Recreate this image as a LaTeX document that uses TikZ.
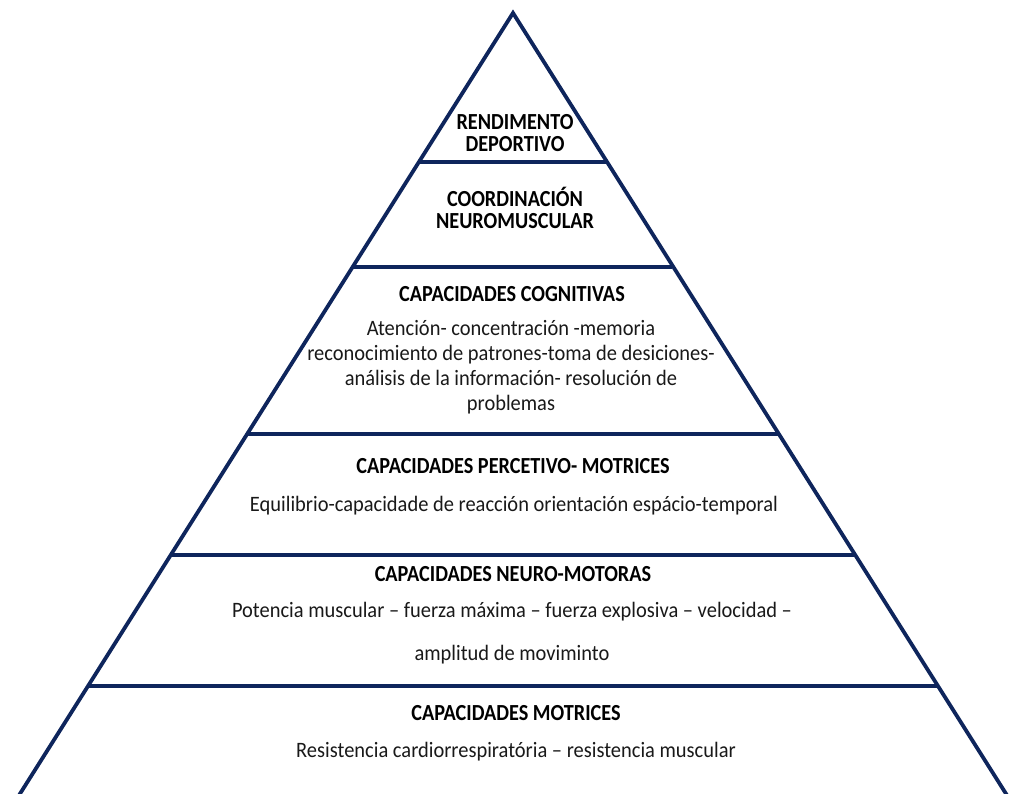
\documentclass[tikz,border=0pt]{standalone}
\usepackage{fontspec}
\setmainfont{Carlito}
\newfontfamily\headfont[FakeStretch=0.88]{Carlito}
\newfontfamily\bodyfont[FakeStretch=0.93]{Carlito}
\definecolor{navy}{RGB}{14,37,92}
\begin{document}
\begin{tikzpicture}[x=1pt,y=-1pt,
  edge/.style={draw=navy,line width=3.8pt},
  tier/.style={draw=navy,line width=3.6pt},
  title/.style={font=\headfont\bfseries\fontsize{23}{22.5}\selectfont,align=center,text=black,inner sep=0pt},
  body/.style={font=\bodyfont\fontsize{22}{25}\selectfont,align=center,text=black!90,inner sep=0pt}]
\useasboundingbox (0,0) rectangle (1010,794);
\begin{scope}
  \clip (0,0) rectangle (1010,794);
  % outer triangle
  \coordinate (apex) at (513,13);
  \coordinate (bl) at (11,808);
  \coordinate (br) at (1015,808);
  \draw[edge,line join=miter] (bl) -- (apex) -- (br);
  % tier boundaries
  \coordinate (l1) at (420,162); \coordinate (r1) at (606,162);
  \coordinate (l2) at (354,267); \coordinate (r2) at (672,267);
  \coordinate (l3) at (248,434); \coordinate (r3) at (778,434);
  \coordinate (l4) at (172,555); \coordinate (r4) at (854,555);
  \coordinate (l5) at (89,686);  \coordinate (r5) at (937,686);
  \draw[tier] (l1) -- (r1);
  \draw[tier] (l2) -- (r2);
  \draw[tier] (l3) -- (r3);
  \draw[tier] (l4) -- (r4);
  \draw[tier] (l5) -- (r5);
\end{scope}
% tier texts
\node[title] (t1) at (515,133) {RENDIMENTO\\DEPORTIVO};
\node[title] (t2) at (515,208) {COORDINACIÓN\\NEUROMUSCULAR};
\node[title] (t3) at (512,294) {CAPACIDADES COGNITIVAS};
\node[body] (b3) at (511,367) {Atención- concentración -memoria\\reconocimiento de patrones-toma de desiciones-\\análisis de la información- resolución de\\problemas};
\node[title] (t4) at (513,466) {CAPACIDADES PERCETIVO- MOTRICES};
\node[body] (b4) at (514,506) {Equilibrio-capacidade de reacción orientación espácio-temporal};
\node[title] (t5) at (513,574) {CAPACIDADES NEURO-MOTORAS};
\node[body] (b5) at (512,612) {Potencia muscular – fuerza máxima – fuerza explosiva – velocidad –};
\node[body] (b5b) at (512,655) {amplitud de movimint{o}};
\node[title] (t6) at (516,713) {CAPACIDADES MOTRICES};
\node[body] (b6) at (516,752) {Resistencia cardiorrespiratória – resistencia muscular};
\end{tikzpicture}
\end{document}
